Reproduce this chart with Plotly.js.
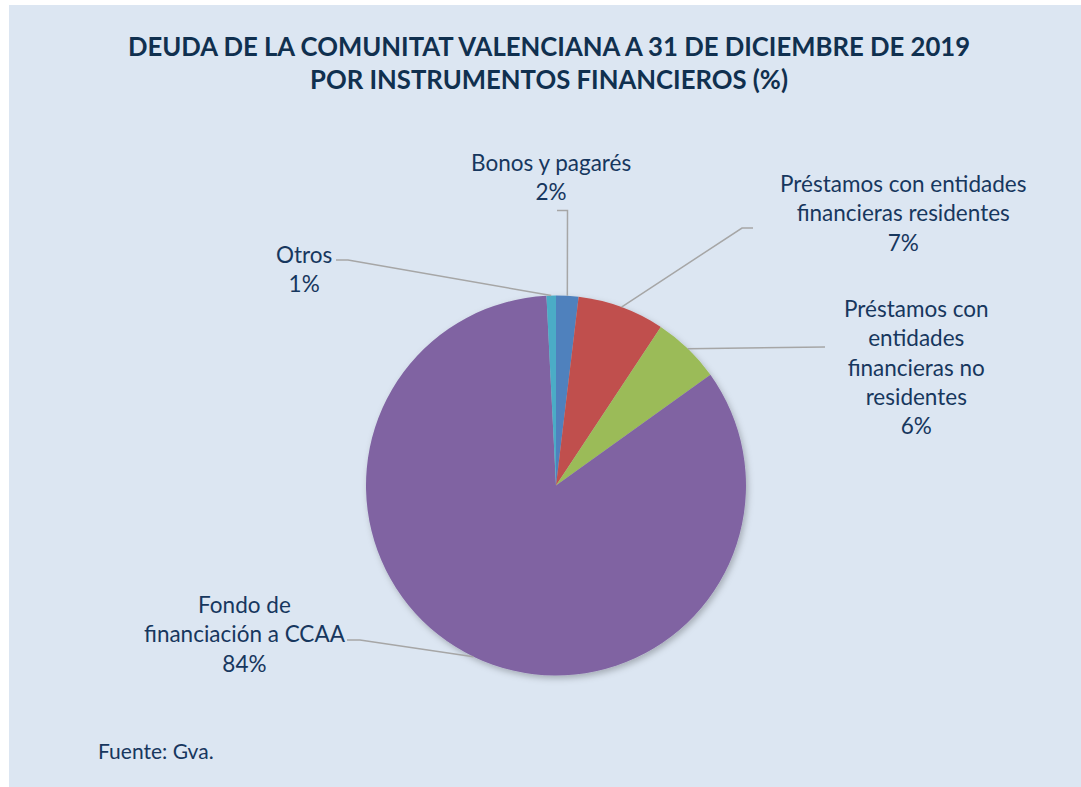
<!DOCTYPE html>
<html>
<head>
<meta charset="utf-8">
<script src="https://cdn.plot.ly/plotly-3.0.1.min.js"></script>
<style>
html,body{margin:0;padding:0;background:#ffffff;}
#chart{width:1081px;height:787px;}
</style>
</head>
<body>
<div id="chart"></div>
<script>
// ---- data ----
const categories = [
  "Bonos y pagarés",
  "Préstamos con entidades financieras residentes",
  "Préstamos con entidades financieras no residentes",
  "Fondo de financiación a CCAA",
  "Otros"
];
const labelLines = [
  "Bonos y pagarés",
  "Préstamos con entidades<br>financieras residentes",
  "Préstamos con<br>entidades<br>financieras no<br>residentes",
  "Fondo de<br>financiación a CCAA",
  "Otros"
];
const values = [1.9, 7.4, 5.8, 84.1, 0.8];
const colors = ["#4F81BD", "#C0504D", "#9BBB59", "#8064A2", "#4BACC6"];
const titleText = "DEUDA DE LA COMUNITAT VALENCIANA A 31 DE DICIEMBRE DE 2019<br>POR INSTRUMENTOS FINANCIEROS (%)";
const sourceText = "Fuente: Gva.";

// ---- layout geometry (pixels) ----
const W = 1081, H = 787;
const cx = 556, cy = 485.5, R = 190;
const px = x => x / W;
const py = y => 1 - y / H;
const FONT = "Lato, 'Open Sans', sans-serif";
const TXT = "#17375E";

// label placements (pixel centres) and leader-line elbows
const labelPos = [
  {x: 551, y: 177.5, elbow: [[557, 210.5], [567.5, 210.5]]},
  {x: 903, y: 213, elbow: [[753, 228], [742, 228]]},
  {x: 916, y: 366.5, elbow: [[825, 347]]},
  {x: 244.5, y: 633.5, elbow: [[347, 640], [360, 640]]},
  {x: 304, y: 269, elbow: [[336, 260], [348, 260]]}
];

const total = values.reduce((a, b) => a + b, 0);
let cum = 0;
const shapes = [{
  type: "rect", xref: "paper", yref: "paper", layer: "below",
  x0: px(9), x1: 1, y0: 0, y1: py(5),
  fillcolor: "#DCE6F2", line: {width: 0}
}];
const annotations = [];
values.forEach((v, i) => {
  const mid = (cum + v / 2) / total * 2 * Math.PI;
  cum += v;
  const ex = cx + R * Math.sin(mid);
  const ey = cy - R * Math.cos(mid);
  const pts = labelPos[i].elbow.concat([[ex, ey]]);
  const d = pts.map((p, k) => (k ? "L" : "M") + px(p[0]) + "," + py(p[1])).join(" ");
  shapes.push({type: "path", xref: "paper", yref: "paper", layer: "above", path: d,
    line: {color: "#A6A6A6", width: 1.5}});
  annotations.push({
    xref: "paper", yref: "paper", x: px(labelPos[i].x), y: py(labelPos[i].y),
    xanchor: "center", yanchor: "middle", showarrow: false, align: "center",
    text: labelLines[i] + "<br>" + Math.round(v / total * 100) + "%",
    font: {family: FONT, size: 22.5, color: TXT}
  });
});
annotations.push({
  xref: "paper", yref: "paper", x: px(96), y: py(750.5), xanchor: "left", yanchor: "middle",
  showarrow: false, text: sourceText, font: {family: FONT, size: 21, color: TXT}
});

const data = [{
  type: "pie",
  labels: categories,
  values: values,
  sort: false,
  direction: "clockwise",
  rotation: 0,
  textinfo: "none",
  hoverinfo: "label+percent",
  marker: {colors: colors, line: {width: 0}},
  domain: {x: [px(cx - R), px(cx + R)], y: [py(cy + R), py(cy - R)]},
  showlegend: false
}];

const layout = {
  width: W, height: H,
  margin: {l: 0, r: 0, t: 0, b: 0},
  paper_bgcolor: "#ffffff",
  title: {
    text: "<b>" + titleText + "</b>",
    x: px(549), xanchor: "center", y: py(56), yanchor: "middle",
    font: {family: FONT, size: 25.7, color: "#10304F"}
  },
  shapes: shapes,
  annotations: annotations
};

Plotly.newPlot("chart", data, layout, {displayModeBar: false, staticPlot: true}).then(gd => {
  const svg = gd.querySelector("svg.main-svg");
  const ns = "http://www.w3.org/2000/svg";
  let defs = svg.querySelector("defs");
  const f = document.createElementNS(ns, "filter");
  f.setAttribute("id", "pieShadow");
  f.setAttribute("x", "-20%"); f.setAttribute("y", "-20%");
  f.setAttribute("width", "140%"); f.setAttribute("height", "140%");
  f.innerHTML = '<feDropShadow dx="2" dy="3" stdDeviation="3" flood-color="#000" flood-opacity="0.25"/>';
  defs.appendChild(f);
  const pl = gd.querySelector(".pielayer");
  if (pl) pl.setAttribute("filter", "url(#pieShadow)");
});
</script>
</body>
</html>
